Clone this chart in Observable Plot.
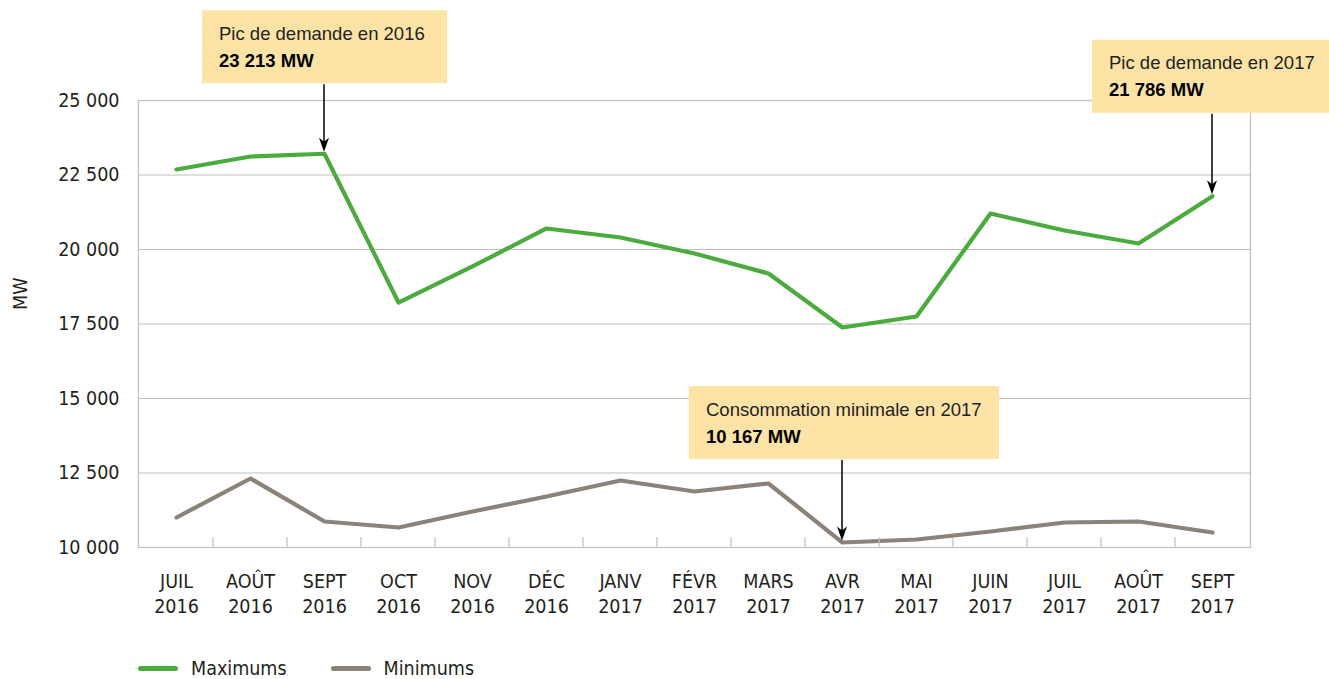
<!DOCTYPE html>
<html>
<head>
<meta charset="utf-8">
<script src="https://cdn.jsdelivr.net/npm/d3@7"></script>
<script src="https://cdn.jsdelivr.net/npm/@observablehq/plot@0.6"></script>
<style>
  html, body { margin: 0; padding: 0; background: #fff; }
  body { width: 1329px; height: 679px; overflow: hidden; }
  #legend { height: 21px; line-height: 21px; display: flex; align-items: center; padding-left: 138px;
    font-family: "DejaVu Sans Condensed", "DejaVu Sans", sans-serif; font-stretch: condensed; font-size: 19.5px; color: #231f20; }
  .item { display: flex; align-items: center; margin-right: 44px; }
  .sw { width: 40px; height: 5px; border-radius: 3px; margin-right: 13px; }
</style>
</head>
<body>
<div id="chart"></div>
<div id="legend"></div>
<script>
// ---- data ----
const months = ["JUIL", "AOÛT", "SEPT", "OCT", "NOV", "DÉC", "JANV", "FÉVR", "MARS", "AVR", "MAI", "JUIN", "JUIL", "AOÛT", "SEPT"];
const years = ["2016", "2016", "2016", "2016", "2016", "2016", "2017", "2017", "2017", "2017", "2017", "2017", "2017", "2017", "2017"];
const maximums = [22685, 23121, 23213, 18221, 19430, 20705, 20403, 19866, 19195, 17383, 17752, 21208, 20638, 20201, 21786];
const minimums = [11007, 12315, 10872, 10671, 11208, 11711, 12248, 11879, 12148, 10167, 10268, 10537, 10839, 10872, 10503];
const yTicks = [10000, 12500, 15000, 17500, 20000, 22500, 25000];
const seriesNames = ["Maximums", "Minimums"];
const yLabel = "MW";
const annTitles = ["Pic de demande en 2016", "Consommation minimale en 2017", "Pic de demande en 2017"];
const annValues = ["23 213 MW", "10 167 MW", "21 786 MW"];
const annIndex = [2, 9, 14];
const annSeries = ["Maximums", "Minimums", "Maximums"];

// ---- styles ----
const colors = {Maximums: "#4bab3e", Minimums: "#8b8279"};
const condFont = '"DejaVu Sans Condensed", "DejaVu Sans", sans-serif';
const annFont = '"Liberation Sans", Arial, sans-serif';
const gridColor = "#bfbfbf";
const boxFill = "#fde4a6";
const annLayout = [ {dx: -122, dy: -143, w: 245}, {dx: -153, dy: -156, w: 310}, {dx: -120, dy: -156, w: 250} ];

const cats = months.map((m, i) => m + "\n" + years[i]);
const rows = [];
seriesNames.forEach(s => {
  const vals = s === "Maximums" ? maximums : minimums;
  vals.forEach((v, i) => rows.push({cat: cats[i], series: s, value: v}));
});
const fmt = d => d3.format(",")(d).replace(/,/g, " ");

const chart = Plot.plot({
  width: 1329,
  height: 658,
  marginLeft: 138,
  marginRight: 79,
  marginTop: 100,
  marginBottom: 111,
  x: {type: "point", domain: cats, padding: 0.5},
  y: {domain: [10000, 25000]},
  style: {fontFamily: condFont, fontSize: "19.5px", color: "#231f20", background: "#fff", fontStretch: "condensed"},
  marks: [
    Plot.gridY(yTicks, {stroke: gridColor, strokeOpacity: 1, strokeWidth: 1.2}),
    Plot.frame({stroke: gridColor, strokeWidth: 1.2}),
    Plot.axisY(yTicks, {tickSize: 0, tickPadding: 19, tickFormat: fmt, label: null}),
    Plot.axisX({tickSize: 0, tickPadding: 22, label: null, lineHeight: 1.3}),
    Plot.text([yLabel], {frameAnchor: "left", dx: -118, dy: -14, rotate: -90, text: d => d, fontSize: 19.5}),
    Plot.line(rows, {x: "cat", y: "value", z: "series", stroke: d => colors[d.series], strokeWidth: 4.2, strokeLinejoin: "round"})
  ]
});
document.getElementById("chart").appendChild(chart);

// ---- post: boundary ticks & annotations (positioned with the plot's scales) ----
const xs = chart.scale("x"), ys = chart.scale("y");
const X = v => xs.apply(v), Y = v => ys.apply(v);
const step = X(cats[1]) - X(cats[0]);
const svg = d3.select(chart);
const tg = svg.append("g").attr("stroke", gridColor).attr("stroke-width", 1.2);
for (let i = 1; i < cats.length; i++) {
  const bx = X(cats[0]) - step / 2 + i * step;
  tg.append("line").attr("x1", bx).attr("x2", bx).attr("y1", Y(10000) - 10).attr("y2", Y(10000));
}

annIndex.forEach((idx, k) => {
  const val = annSeries[k] === "Maximums" ? maximums[idx] : minimums[idx];
  const px = X(cats[idx]), py = Y(val);
  const L = annLayout[k];
  const bx = px + L.dx, by = py + L.dy, bh = 73;
  const g = svg.append("g").attr("text-anchor", "start").style("font-stretch", "normal");
  g.append("rect").attr("x", bx).attr("y", by).attr("width", L.w).attr("height", bh).attr("fill", boxFill);
  g.append("text").attr("x", bx + 17).attr("y", by + 29.5).attr("font-family", annFont)
    .attr("font-size", 18.5).attr("fill", "#231f20").text(annTitles[k]);
  g.append("text").attr("x", bx + 17).attr("y", by + 56.5).attr("font-family", annFont)
    .attr("font-size", 18.5).attr("font-weight", "bold").attr("fill", "#000").text(annValues[k]);
  const tipY = py - 1.5;
  g.append("line").attr("x1", px).attr("x2", px).attr("y1", by + bh + 1).attr("y2", tipY - 8)
    .attr("stroke", "#000").attr("stroke-width", 1.5);
  g.append("path").attr("d", `M${px},${tipY} L${px - 5},${tipY - 14} L${px},${tipY - 10} L${px + 5},${tipY - 14} Z`)
    .attr("fill", "#000");
});

// ---- legend ----
const leg = d3.select("#legend");
seriesNames.forEach(s => {
  const it = leg.append("div").attr("class", "item");
  it.append("div").attr("class", "sw").style("background", colors[s]);
  it.append("span").text(s);
});
</script>
</body>
</html>
